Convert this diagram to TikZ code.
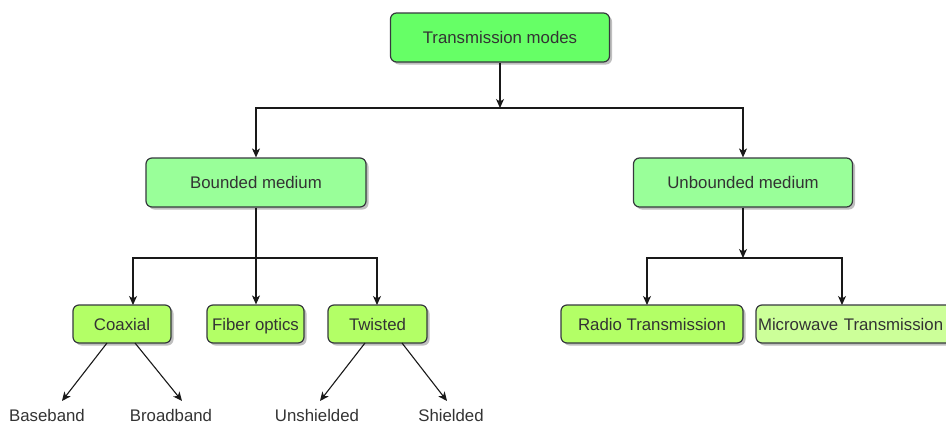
\documentclass[tikz,border=0pt]{standalone}
\usepackage{fontspec}
\setmainfont{Liberation Sans}
\usetikzlibrary{arrows.meta,shadows}
\definecolor{cTop}{HTML}{66FF66}
\definecolor{cMid}{HTML}{99FF99}
\definecolor{cLeaf}{HTML}{B3FF66}
\definecolor{cMicro}{HTML}{CCFF99}
\definecolor{cBorder}{HTML}{36393D}
\definecolor{cText}{HTML}{333333}
\begin{document}
\begin{tikzpicture}[x=1pt,y=-1pt,
  font=\fontsize{16.8}{20}\selectfont,
  box/.style={draw=cBorder,line width=1.2pt,rounded corners=6pt,text=cText,
    inner sep=0pt,text height=12pt,text depth=0pt,
    drop shadow={shadow xshift=2.5pt,shadow yshift=-2.5pt,fill=black,opacity=0.25}},
  lbl/.style={text=cText,inner sep=0pt,text height=12pt,text depth=0pt},
  con/.style={draw=black!90,line width=1.1pt},
  arr/.style={con,-{Stealth[length=9pt,width=8pt,inset=2.5pt]}}]
\useasboundingbox (0,0) rectangle (946,424);
% boxes
\node[box,fill=cTop,minimum width=219pt,minimum height=49pt] (tm) at (500,37.5) {Transmission modes};
\node[box,fill=cMid,minimum width=220pt,minimum height=49pt] (bm) at (256,182.5) {Bounded medium};
\node[box,fill=cMid,minimum width=219pt,minimum height=49pt] (um) at (743,182.5) {Unbounded medium};
\node[box,fill=cLeaf,minimum width=98pt,minimum height=38pt] (cx) at (122,324) {Coaxial};
\node[box,fill=cLeaf,minimum width=97pt,minimum height=38pt] (fo) at (255.5,324) {Fiber optics};
\node[box,fill=cLeaf,minimum width=99pt,minimum height=38pt] (tw) at (377.5,324) {Twisted};
\node[box,fill=cLeaf,minimum width=182pt,minimum height=38pt] (rt) at (652,324) {Radio Transmission};
\begin{scope}
\clip (0,0) rectangle (946,424);
\node[box,fill=cMicro,minimum width=210pt,minimum height=38pt,text width=206pt,align=left] (mt) at (861,324) {Microwave Transmission};
\end{scope}
% labels
\node[lbl] (bb) at (47,415) {Baseband};
\node[lbl] (br) at (171,415) {Broadband};
\node[lbl] (us) at (317,415) {Unshielded};
\node[lbl] (sh) at (451,415) {Shielded};
% junctions
\coordinate (j1) at (500,108);
\coordinate (j2) at (256,258);
\coordinate (j3) at (743,258);
\coordinate (cxin) at (133,305);
\coordinate (twin) at (377,305);
\coordinate (rtin) at (647,305);
\coordinate (mtin) at (842,305);
% connectors
\draw[arr] (tm.south) -- (j1);
\draw[arr] (j1) -| (bm.north);
\draw[arr] (j1) -| (um.north);
\draw[arr] (j2 |- bm.south) -- (fo.north -| j2);
\draw[arr] (j2) -| (cxin);
\draw[arr] (j2) -| (twin);
\draw[arr] (um.south) -- (j3);
\draw[arr] (j3) -| (rtin);
\draw[arr] (j3) -| (mtin);
% diagonals
\coordinate (cxa) at (107,343);
\coordinate (cxb) at (135,343);
\coordinate (twa) at (365,343);
\coordinate (twb) at (402,343);
\coordinate (bbt) at (62,401);
\coordinate (brt) at (182,401);
\coordinate (ust) at (320,401);
\coordinate (sht) at (447,401);
\draw[arr] (cxa) -- (bbt);
\draw[arr] (cxb) -- (brt);
\draw[arr] (twa) -- (ust);
\draw[arr] (twb) -- (sht);
\end{tikzpicture}
\end{document}
